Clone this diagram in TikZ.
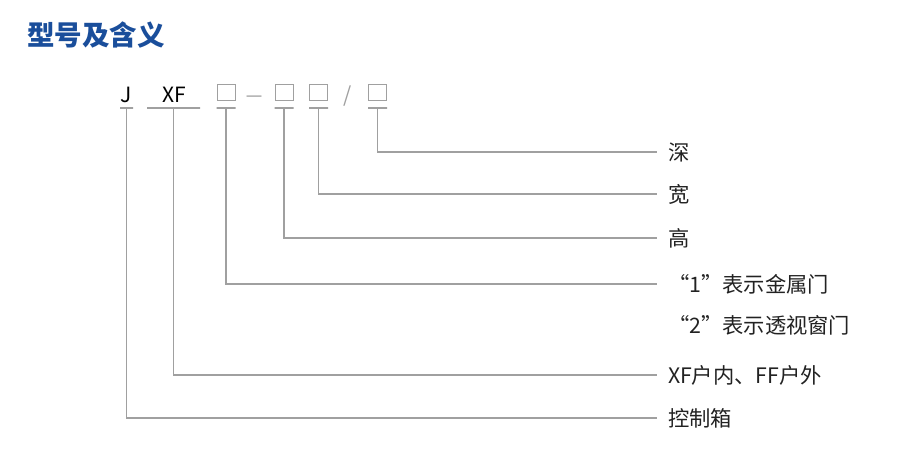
\documentclass[tikz,border=0pt]{standalone}
\usepackage{fontspec}
\setmainfont{Noto Sans CJK SC}
\usepackage{tikz}
\usetikzlibrary{positioning}
\definecolor{titleblue}{HTML}{1A4E9B}
\definecolor{leadgray}{HTML}{A0A0A0}
\definecolor{meantext}{HTML}{222222}
\tikzset{
codechar/.style={inner sep=0pt, anchor=base, font=\fontsize{21}{21}\selectfont},
codebox/.style={draw=leadgray, line width=1pt, minimum width=18pt, minimum height=16pt, inner sep=0pt},
underbar/.style={draw=leadgray, line width=1.2pt, inner sep=0pt, minimum height=0pt},
leadline/.style={draw=leadgray, line width=1.2pt},
meaning/.style={anchor=west, inner sep=0pt, outer sep=11pt, text=meantext, font=\fontsize{21.3}{22}\selectfont}
}

\begin{document}
\begin{tikzpicture}[x=1pt, y=-1pt]
\useasboundingbox (0,0) rectangle (920,455);

\node[anchor=west, inner sep=0pt, text=titleblue, font=\fontsize{27.5}{28}\selectfont\bfseries] (title) at (27,35) {型号及含义};

% model code
\node[codechar] (j) at (126,102) {J};
\node[codechar] (xf) at (174.5,102) {XF};
\node[codebox] (b1) at (226,92.5) {};
\node[codechar, text=leadgray] (dash) at (255,102) {\scalebox{1.6}[1]{–}};
\node[codebox] (b2) at (284,92.5) {};
\node[codebox] (b3) at (318.5,92.5) {};
\node[codechar, text=leadgray] (slash) at (348,102) {/};
\node[codebox] (b4) at (377.5,92.5) {};

\node[underbar, minimum width=13pt] (uj) at (126.5,108) {};
\node[underbar, minimum width=53pt] (uxf) at (173.5,108) {};
\node[underbar, minimum width=19pt] (u1) at (226,108) {};
\node[underbar, minimum width=19pt] (u2) at (284,108) {};
\node[underbar, minimum width=19pt] (u3) at (318.5,108) {};
\node[underbar, minimum width=19pt] (u4) at (377.5,108) {};

% meanings
\node[meaning] (depth) at (657,152) {深};
\node[meaning] (width) at (657,194) {宽};
\node[meaning] (height) at (657,238) {高};
\node[meaning] (door1) at (657,284) {“1”表示金属门};
\node[meaning] (door2) at (657,325) {“2”表示透视窗门};
\node[meaning] (place) at (657,375) {XF户内、FF户外};
\node[meaning] (box) at (657,418) {控制箱};

\draw[leadline] (u4) |- (depth.west);
\draw[leadline] (u3) |- (width.west);
\draw[leadline] (u2) |- (height.west);
\draw[leadline] (u1) |- (door1.west);
\draw[leadline] (uxf) |- (place.west);
\draw[leadline] (uj) |- (box.west);
\end{tikzpicture}
\end{document}
